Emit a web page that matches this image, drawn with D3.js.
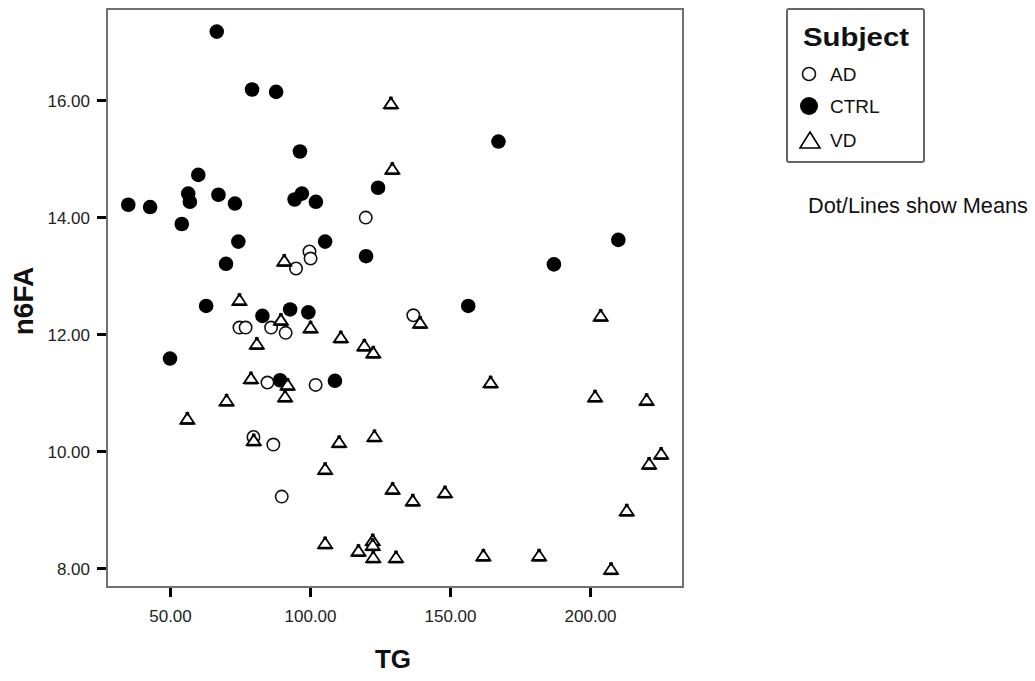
<!DOCTYPE html>
<html>
<head>
<meta charset="utf-8">
<script src="https://cdn.jsdelivr.net/npm/d3@7"></script>
<style>
html,body{margin:0;padding:0;background:#fff;}
svg{display:block;font-family:"Liberation Sans",Arial,sans-serif;}
</style>
</head>
<body>
<svg id="chart" width="1035" height="681"></svg>
<script>
// ---- data ----
const groups = ["AD", "CTRL", "VD"];
const xTicks = [50, 100, 150, 200];
const yTicks = [8, 10, 12, 14, 16];

const adTG   = [119.9, 99.8, 100.2, 95.0, 74.8, 77.0, 86.1, 91.3, 136.9, 84.8, 102.0, 79.8, 86.9, 89.9];
const adN6FA = [13.99, 13.41, 13.29, 13.12, 12.11, 12.11, 12.11, 12.02, 12.32, 11.17, 11.13, 10.24, 10.11, 9.22];

const ctrlTG   = [66.7, 79.3, 87.9, 96.4, 60.1, 124.3, 56.5, 67.3, 94.5, 97.1, 57.1, 102.1, 35.1, 42.9, 73.2, 54.2,
                  74.4, 105.4, 120.0, 70.0, 62.9, 83.0, 92.9, 99.4, 50.0, 89.3, 108.9, 156.5, 167.3, 210.1, 187.1];
const ctrlN6FA = [17.17, 16.18, 16.14, 15.12, 14.72, 14.50, 14.40, 14.38, 14.30, 14.40, 14.26, 14.26, 14.21, 14.17, 14.23, 13.88,
                  13.58, 13.58, 13.33, 13.20, 12.48, 12.31, 12.42, 12.37, 11.58, 11.21, 11.20, 12.48, 15.29, 13.61, 13.19];

const vdTG   = [128.9, 129.4, 90.8, 74.8, 89.6, 100.2, 81.0, 111.0, 119.4, 122.6, 78.9, 92.0, 91.1, 70.2, 56.2, 79.9,
                123.0, 110.4, 105.4, 129.5, 105.4, 122.4, 122.4, 117.3, 122.6, 130.7, 139.3, 203.8, 164.5, 201.8, 220.2,
                225.4, 221.1, 136.7, 148.2, 213.1, 161.9, 181.8, 207.5];
const vdN6FA = [15.95, 14.83, 13.26, 12.59, 12.25, 12.12, 11.84, 11.95, 11.81, 11.69, 11.25, 11.14, 10.94, 10.87, 10.56, 10.19,
                10.26, 10.16, 9.70, 9.36, 8.43, 8.48, 8.40, 8.30, 8.19, 8.19, 12.20, 12.32, 11.18, 10.94, 10.88,
                9.96, 9.79, 9.16, 9.30, 8.99, 8.22, 8.22, 7.99];

// ---- layout ----
const svg = d3.select("#chart");
const L = 107, R = 683, T = 9, B = 587;
const x = d3.scaleLinear().domain([27.5, 233.2]).range([L, R]);
const y = d3.scaleLinear().domain([7.675, 17.556]).range([B, T]);

// frame
svg.append("rect").attr("x", L).attr("y", T).attr("width", R - L).attr("height", B - T)
  .attr("fill", "#fff").attr("stroke", "#707070").attr("stroke-width", 2);

// axes
const xAxis = svg.append("g").attr("transform", `translate(0,${B + 1})`)
  .call(d3.axisBottom(x).tickValues(xTicks).tickSize(9).tickPadding(13).tickFormat(d3.format(".2f")));
const yAxis = svg.append("g").attr("transform", `translate(${L - 1},0)`)
  .call(d3.axisLeft(y).tickValues(yTicks).tickSize(9).tickPadding(7).tickFormat(d3.format(".2f")));
[xAxis, yAxis].forEach(a => {
  a.select(".domain").remove();
  a.selectAll(".tick line").attr("stroke", "#000").attr("stroke-width", 3);
  a.selectAll(".tick text").attr("fill", "#222").attr("font-size", 17)
    .attr("font-family", "'Liberation Sans', Arial, sans-serif");
});
yAxis.selectAll(".tick text").attr("dy", "0.36em");

// axis titles
svg.append("text").attr("x", (L + R) / 2 - 2).attr("y", 668).attr("text-anchor", "middle")
  .attr("font-size", 26).attr("font-weight", "bold").attr("fill", "#111").text("TG");
svg.append("text").attr("transform", `translate(33,${(T + B) / 2 + 3}) rotate(-90)`).attr("text-anchor", "middle")
  .attr("font-size", 28).attr("font-weight", "bold").attr("fill", "#111").text("n6FA");

// marker drawers
const triPath = (w, h) => `M0,${-h / 2}L${w / 2},${h / 2}L${-w / 2},${h / 2}Z`;
function drawCircleOpen(g, cx, cy, r) {
  g.append("circle").attr("cx", cx).attr("cy", cy).attr("r", r)
    .attr("fill", "#fff").attr("stroke", "#111").attr("stroke-width", 1.6);
}
function drawCircleFilled(g, cx, cy, r) {
  g.append("circle").attr("cx", cx).attr("cy", cy).attr("r", r).attr("fill", "#000");
}
function drawTri(g, cx, cy, w, h) {
  const t = g.append("g").attr("transform", `translate(${cx},${cy})`);
  t.append("path").attr("d", triPath(w, h)).attr("fill", "#fff")
    .attr("stroke", "#000").attr("stroke-width", 1.8).attr("stroke-linejoin", "miter");
  t.append("rect").attr("x", -1.8).attr("y", -h / 2 - 1).attr("width", 3.6).attr("height", 3.4).attr("fill", "#000");
  t.append("line").attr("x1", -w / 2).attr("x2", w / 2).attr("y1", h / 2).attr("y2", h / 2)
    .attr("stroke", "#000").attr("stroke-width", 2.6);
}

// points
const pts = svg.append("g");
ctrlTG.forEach((v, i) => drawCircleFilled(pts, x(v), y(ctrlN6FA[i]), 7.3));
adTG.forEach((v, i) => drawCircleOpen(pts, x(v), y(adN6FA[i]), 6.2));
vdTG.forEach((v, i) => drawTri(pts, x(v), y(vdN6FA[i]), 14, 10.5));

// legend
const lg = svg.append("g");
lg.append("rect").attr("x", 787).attr("y", 9).attr("width", 137).attr("height", 153).attr("rx", 2)
  .attr("fill", "#fff").attr("stroke", "#666").attr("stroke-width", 2);
lg.append("text").attr("x", 803).attr("y", 46).attr("font-size", 26).attr("font-weight", "bold")
  .attr("fill", "#111").attr("textLength", 106).attr("lengthAdjust", "spacingAndGlyphs").text("Subject");
const legY = [74, 106, 140];
groups.forEach((gname, i) => {
  const cy = legY[i];
  if (gname === "AD") drawCircleOpen(lg, 809, cy, 6.5);
  else if (gname === "CTRL") drawCircleFilled(lg, 809, cy, 9);
  else {
    lg.append("path").attr("d", triPath(20, 16)).attr("transform", `translate(810,${cy})`)
      .attr("fill", "#fff").attr("stroke", "#000").attr("stroke-width", 1.6);
  }
  lg.append("text").attr("x", 830).attr("y", cy + 7).attr("font-size", 19).attr("fill", "#111").text(gname);
});

svg.append("text").attr("x", 808).attr("y", 213).attr("font-size", 22).attr("fill", "#111")
  .attr("textLength", 220).attr("lengthAdjust", "spacingAndGlyphs").text("Dot/Lines show Means");
</script>
</body>
</html>
